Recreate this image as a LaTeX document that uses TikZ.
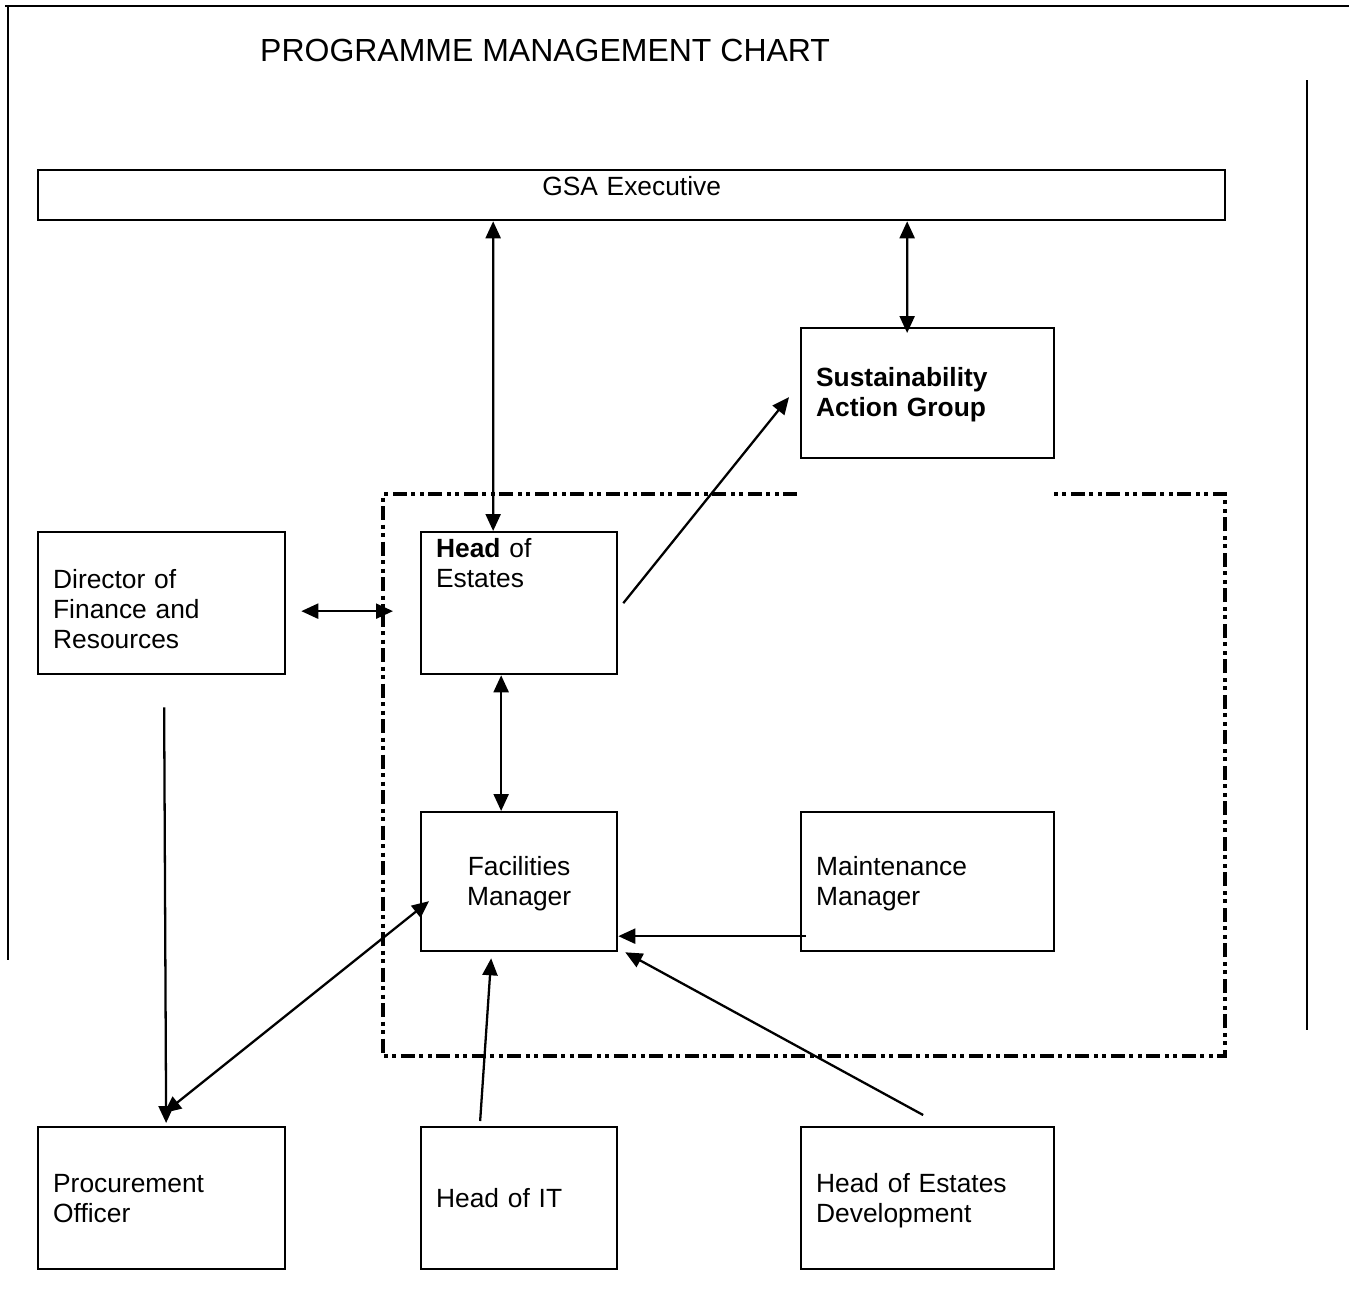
\documentclass[tikz,border=0pt]{standalone}
\usepackage{fontspec}
\setmainfont{Liberation Sans}
\usetikzlibrary{arrows.meta}
\tikzset{auto,
  >={Triangle[length=0.34cm,width=0.3cm]},
  box/.style={draw, line width=1.3pt, anchor=north west, inner xsep=0.3cm, inner ysep=0pt,
    align=left, font=\fontsize{15}{17.07}\selectfont},
  link/.style={line width=1.3pt},
  frame/.style={line width=1.5pt},
  team/.style={line width=2.2pt, dash pattern=on 0.28cm off 0.09cm on 0.08cm off 0.09cm on 0.08cm off 0.09cm}
}
\begin{document}
\begin{tikzpicture}
        \useasboundingbox (0,0) rectangle (27.14,-25.94);
        \draw[frame] (0.1,-0.12) -- (26.98,-0.12);
        \draw[frame] (0.16,-0.12) -- (0.16,-19.2);
        \draw[frame] (26.14,-1.6) -- (26.14,-20.6);
        \node[anchor=base west, font=\fontsize{18.2}{22}\selectfont] (title) at (5.08,-1.23) {PROGRAMME MANAGEMENT CHART};
        \draw[team] (15.94,-9.88) -- (7.66,-9.88) -- (7.66,-21.12) -- (24.5,-21.12) -- (24.5,-9.88) -- (21.04,-9.88);
        \node[box, align=center, text width=23.14cm, text height=0.5cm, text depth=0.5cm] (gsa) at (0.74,-3.38) {GSA Executive};
        \node[box, text width=4.46cm, text height=1.16cm, text depth=1.44cm] (sag) at (16,-6.54) {\bfseries Sustainability\\Action Group};
        \node[box, text width=3.32cm, text height=0.5cm, text depth=2.34cm] (hoe) at (8.4,-10.62) {\textbf{Head} of\\Estates};
        \node[box, text width=4.34cm, text height=1.12cm, text depth=1.72cm] (dfr) at (0.74,-10.62) {Director of\\Finance and\\Resources};
        \node[box, align=center, text width=3.32cm, text height=1.26cm, text depth=1.52cm] (fm) at (8.4,-16.22) {Facilities\\Manager};
        \node[box, text width=4.46cm, text height=1.26cm, text depth=1.52cm] (mm) at (16,-16.22) {Maintenance\\Manager};
        \node[box, text width=4.34cm, text height=1.3cm, text depth=1.54cm] (po) at (0.74,-22.52) {Procurement\\Officer};
        \node[box, text width=3.32cm, text height=1.6cm, text depth=1.24cm] (hoit) at (8.4,-22.52) {Head of IT};
        \node[box, text width=4.46cm, text height=1.3cm, text depth=1.54cm] (hoed) at (16,-22.52) {Head of Estates\\Development};
        \draw[link, <->] ([xshift=-2.77cm]gsa.south) to ([xshift=-0.52cm]hoe.north);
        \draw[link, <->] ([xshift=5.51cm]gsa.south) to ([shift={(-0.41cm,-0.12cm)}]sag.north);
        \draw[link, ->] ([xshift=0.1cm]hoe.east) to ([shift={(-0.22cm,-0.08cm)}]sag.west);
        \draw[link, <->] ([shift={(0.3cm,-0.16cm)}]dfr.east) to ([shift={(-0.54cm,-0.16cm)}]hoe.west);
        \draw[link, <->] ([xshift=-0.36cm]hoe.south) to ([xshift=-0.36cm]fm.north);
        \draw[link, ->] ([shift={(0.05cm,-0.64cm)}]dfr.south) to ([shift={(0.09cm,0.06cm)}]po.north);
        \draw[link, <->] ([shift={(0.05cm,0.26cm)}]po.north) to ([shift={(0.18cm,-0.39cm)}]fm.west);
        \draw[link, ->] ([shift={(0.12cm,-1.09cm)}]mm.west) to ([yshift=-1.09cm]fm.east);
        \draw[link, ->] ([shift={(-0.78cm,0.1cm)}]hoit.north) to ([shift={(-0.56cm,-0.12cm)}]fm.south);
        \draw[link, ->] ([shift={(-0.09cm,0.22cm)}]hoed.north) to ([shift={(0.14cm,0cm)}]fm.south east);
      \end{tikzpicture}
\end{document}
